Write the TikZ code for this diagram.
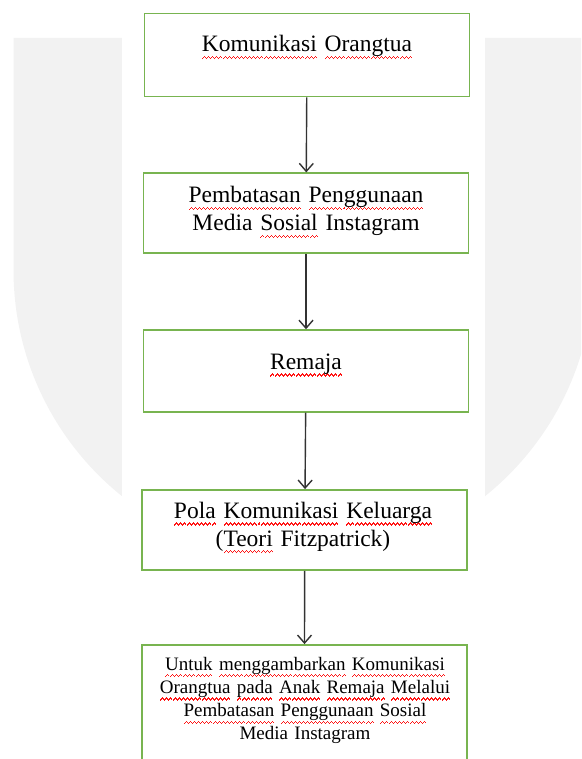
\documentclass[tikz,border=0pt]{standalone}
\usepackage{fontspec}
\setmainfont{Liberation Serif}
\usepackage{xcolor}
\usetikzlibrary{arrows.meta}
\definecolor{hijau}{RGB}{120,180,80}
\definecolor{abu}{RGB}{242,242,242}
\definecolor{merah}{RGB}{255,20,20}
\newcommand{\gel}{\hbox{{\color{merah}\rule[-7.2pt]{1pt}{1.1pt}\rule[-6.2pt]{1pt}{1.1pt}\rule[-5.2pt]{1pt}{1.1pt}\rule[-6.2pt]{1pt}{1.1pt}}}}
\newcommand{\ejaan}[1]{\leavevmode\setbox0\hbox{#1}\rlap{\hbox to \wd0{\xleaders\gel\hfil}}\box0\relax}
\tikzset{
    kotak/.style = {draw=hijau, line width=1.8pt, minimum width=325pt, inner sep=0pt},
    teks/.style = {anchor=base, align=center, text width=310pt, inner sep=0pt, font=\fontsize{23.5}{27.8}\selectfont},
    tekskecil/.style = {teks, font=\fontsize{19}{23.3}\selectfont},
    panah/.style = {-{Straight Barb[length=8pt, width=14pt]}, line width=1.4pt, draw=black!80}
}
\begin{document}
\begin{tikzpicture}[x=1pt, y=1pt]
    % Batas
    \useasboundingbox (0,0) rectangle (581,-759);
    \clip (0,0) rectangle (581,-759);
    % Logo latar
    \fill[abu] (13.5,-38) -- (593.5,-38) -- (593.5,-270) arc[start angle=0, end angle=-180, radius=290] -- cycle;
    \fill[white] (122,-30) rectangle (485,-600);
    % Kotak
    \node[kotak, minimum height=83pt] (k1) at (307,-55) {};
    \node[kotak, minimum height=80pt] (k2) at (306,-213.3) {};
    \node[kotak, minimum height=81.5pt] (k3) at (306,-370.9) {};
    \node[kotak, minimum height=80pt] (k4) at (304.7,-530) {};
    \node[kotak, minimum height=124pt] (k5) at (304.4,-707) {};
    % Teks
    \node[teks] (t1) at (307,-52) {\ejaan{Komunikasi} \ejaan{Orangtua}};
    \node[teks] (t2) at (306,-202.7) {\ejaan{Pembatasan} \ejaan{Penggunaan}\\ Media \ejaan{Sosial} Instagram};
    \node[teks] (t3) at (306,-369.3) {\ejaan{Remaja}};
    \node[teks] (t4) at (303,-518.3) {\ejaan{Pola} \ejaan{Komunikasi} \ejaan{Keluarga}\\ (\ejaan{Teori} Fitzpatrick)};
    \node[tekskecil] (t5) at (305,-670) {\ejaan{Untuk} \ejaan{menggambarkan} \ejaan{Komunikasi}\\
        \ejaan{Orangtua} \ejaan{pada} \ejaan{Anak} \ejaan{Remaja} \ejaan{Melalui}\\
        \ejaan{Pembatasan} \ejaan{Penggunaan} \ejaan{Sosial}\\ Media Instagram};
    % Panah
    \draw[panah] (k1) -- (k2);
    \draw[panah] (k2) -- (k3);
    \draw[panah] (k3) -- (k4);
    \draw[panah] (k4) -- (k5);
\end{tikzpicture}
\end{document}
